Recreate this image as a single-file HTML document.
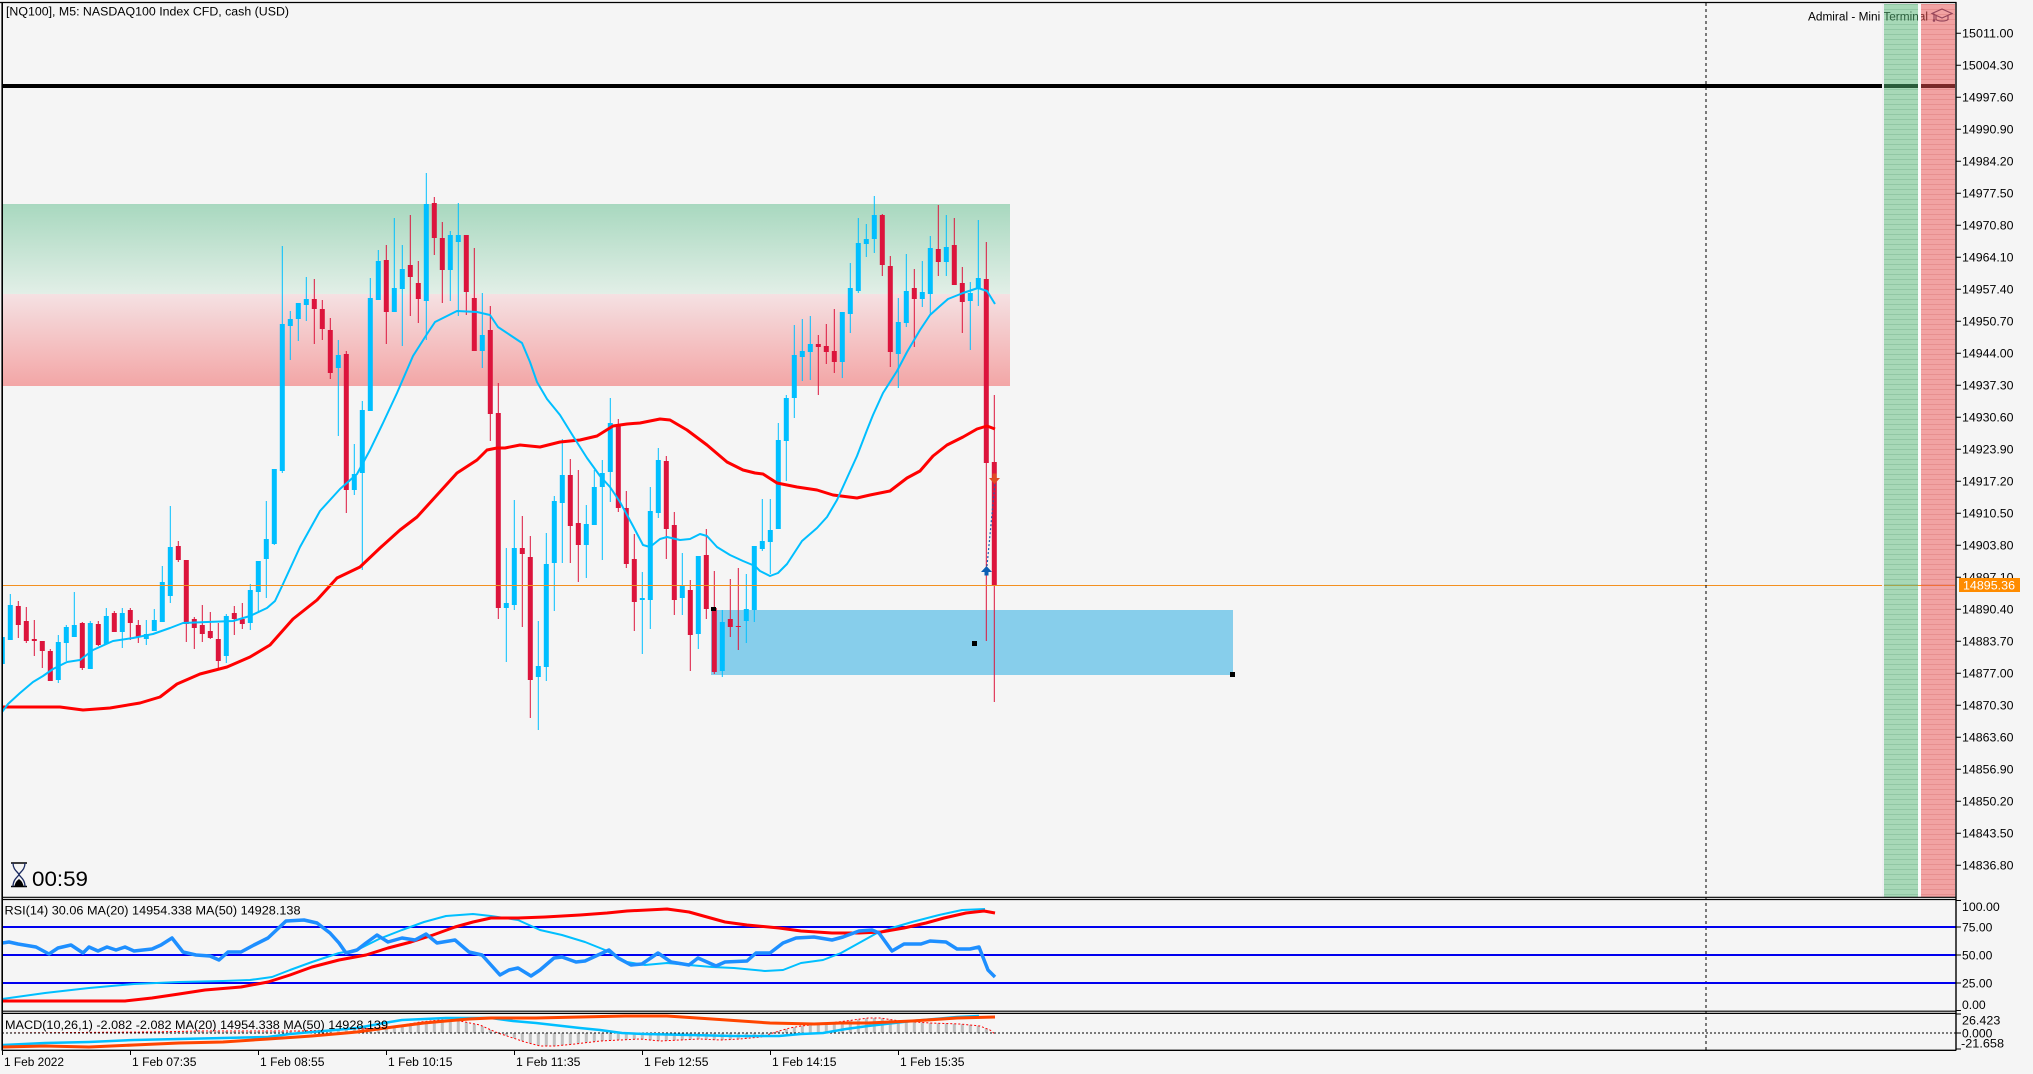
<!DOCTYPE html>
<html><head><meta charset="utf-8"><style>
html,body{margin:0;padding:0;background:#f5f5f5;}
svg{display:block;}
text{font-family:"Liberation Sans",Arial,sans-serif;fill:#000;}
</style></head><body>
<svg width="2033" height="1074" viewBox="0 0 2033 1074" xmlns="http://www.w3.org/2000/svg">
<defs>
<linearGradient id="gz" x1="0" y1="0" x2="0" y2="1"><stop offset="0" stop-color="#a8d8bf"/><stop offset="1" stop-color="#e2efe7"/></linearGradient>
<linearGradient id="rz" x1="0" y1="0" x2="0" y2="1"><stop offset="0" stop-color="#f5e1e3"/><stop offset="1" stop-color="#f3a6a6"/></linearGradient>
<clipPath id="cm"><rect x="3" y="3" width="1953" height="894"/></clipPath>
<clipPath id="cr"><rect x="3" y="900" width="1953" height="111"/></clipPath>
<clipPath id="cd"><rect x="3" y="1014" width="1953" height="36"/></clipPath>
<pattern id="hs" patternUnits="userSpaceOnUse" x="0.8" y="0" width="8" height="1074"><rect width="3" height="1074" fill="#c0c0c0"/></pattern>
<pattern id="gs" patternUnits="userSpaceOnUse" width="10" height="5"><rect y="4" width="10" height="1" fill="rgba(30,110,60,0.16)"/></pattern>
<pattern id="rs" patternUnits="userSpaceOnUse" width="10" height="5"><rect y="4" width="10" height="1" fill="rgba(170,30,30,0.14)"/></pattern>
</defs>
<rect width="2033" height="1074" fill="#f5f5f5"/>

<g clip-path="url(#cm)">
<!-- zones -->
<rect x="2" y="204" width="1008" height="90" fill="url(#gz)"/>
<rect x="2" y="294" width="1008" height="92" fill="url(#rz)"/>
<!-- blue rectangle -->
<rect x="711" y="610" width="522" height="65" fill="#87ceeb"/>
<!-- black level line -->
<rect x="2" y="84" width="1880" height="4" fill="#000"/>
<!-- candles -->
<path fill="#00bfff" d="M1.8 637h1v27h-1zM-0.2 637h5v27h-5zM9.8 594h1v46h-1zM7.8 605h5v35h-5zM57.8 635h1v48h-1zM55.8 642h5v38h-5zM65.8 625h1v36h-1zM63.8 627h5v16h-5zM73.8 592h1v45h-1zM71.8 625h5v12h-5zM89.8 621h1v48h-1zM87.8 623h5v46h-5zM105.8 608h1v36h-1zM103.8 616h5v28h-5zM121.8 608h1v40h-1zM119.8 613h5v19h-5zM145.8 620h1v25h-1zM143.8 634h5v5h-5zM153.8 609h1v22h-1zM151.8 620h5v11h-5zM161.8 566h1v56h-1zM159.8 582h5v40h-5zM169.8 506h1v97h-1zM167.8 547h5v49h-5zM225.8 614h1v49h-1zM223.8 616h5v40h-5zM249.8 584h1v46h-1zM247.8 590h5v33h-5zM257.8 561h1v51h-1zM255.8 561h5v31h-5zM265.8 501h1v97h-1zM263.8 539h5v20h-5zM273.8 469h1v76h-1zM271.8 469h5v75h-5zM281.8 246h1v227h-1zM279.8 324h5v147h-5zM289.8 311h1v49h-1zM287.8 319h5v7h-5zM297.8 303h1v38h-1zM295.8 303h5v16h-5zM305.8 277h1v44h-1zM303.8 299h5v6h-5zM337.8 340h1v96h-1zM335.8 355h5v13h-5zM353.8 444h1v51h-1zM351.8 474h5v16h-5zM361.8 401h1v169h-1zM359.8 410h5v63h-5zM369.8 278h1v133h-1zM367.8 298h5v113h-5zM377.8 250h1v50h-1zM375.8 261h5v39h-5zM393.8 218h1v94h-1zM391.8 288h5v24h-5zM401.8 245h1v101h-1zM399.8 269h5v20h-5zM425.8 173h1v167h-1zM423.8 204h5v97h-5zM449.8 231h1v70h-1zM447.8 235h5v35h-5zM457.8 203h1v113h-1zM455.8 235h5v7h-5zM481.8 293h1v75h-1zM479.8 335h5v16h-5zM505.8 548h1v114h-1zM503.8 603h5v5h-5zM513.8 500h1v110h-1zM511.8 548h5v57h-5zM537.8 621h1v109h-1zM535.8 666h5v11h-5zM545.8 533h1v148h-1zM543.8 564h5v103h-5zM553.8 496h1v115h-1zM551.8 501h5v62h-5zM561.8 439h1v124h-1zM559.8 475h5v28h-5zM585.8 505h1v73h-1zM583.8 524h5v21h-5zM593.8 470h1v55h-1zM591.8 487h5v38h-5zM601.8 460h1v100h-1zM599.8 473h5v14h-5zM609.8 398h1v104h-1zM607.8 423h5v49h-5zM641.8 572h1v82h-1zM639.8 598h5v2h-5zM649.8 487h1v142h-1zM647.8 511h5v89h-5zM657.8 448h1v70h-1zM655.8 460h5v53h-5zM681.8 553h1v62h-1zM679.8 586h5v12h-5zM697.8 556h1v93h-1zM695.8 556h5v78h-5zM721.8 610h1v67h-1zM719.8 622h5v49h-5zM745.8 574h1v69h-1zM743.8 609h5v12h-5zM753.8 546h1v76h-1zM751.8 546h5v64h-5zM761.8 499h1v52h-1zM759.8 541h5v8h-5zM769.8 499h1v75h-1zM767.8 530h5v12h-5zM777.8 423h1v106h-1zM775.8 440h5v89h-5zM785.8 395h1v86h-1zM783.8 398h5v43h-5zM793.8 325h1v93h-1zM791.8 355h5v43h-5zM801.8 319h1v62h-1zM799.8 351h5v6h-5zM809.8 316h1v64h-1zM807.8 344h5v8h-5zM841.8 312h1v66h-1zM839.8 312h5v50h-5zM849.8 263h1v70h-1zM847.8 288h5v26h-5zM857.8 218h1v75h-1zM855.8 243h5v48h-5zM865.8 224h1v33h-1zM863.8 239h5v5h-5zM873.8 196h1v57h-1zM871.8 215h5v24h-5zM897.8 298h1v90h-1zM895.8 322h5v32h-5zM905.8 254h1v73h-1zM903.8 291h5v32h-5zM921.8 261h1v46h-1zM919.8 292h5v7h-5zM929.8 236h1v79h-1zM927.8 248h5v46h-5zM945.8 215h1v61h-1zM943.8 247h5v15h-5zM969.8 282h1v68h-1zM967.8 293h5v8h-5zM977.8 220h1v86h-1zM975.8 278h5v11h-5z"/>
<path fill="#dc143c" d="M17.8 601h1v37h-1zM15.8 606h5v19h-5zM25.8 607h1v36h-1zM23.8 621h5v20h-5zM33.8 620h1v36h-1zM31.8 639h5v2h-5zM41.8 641h1v27h-1zM39.8 641h5v10h-5zM49.8 649h1v32h-1zM47.8 651h5v30h-5zM81.8 622h1v48h-1zM79.8 623h5v45h-5zM97.8 621h1v25h-1zM95.8 624h5v21h-5zM113.8 611h1v21h-1zM111.8 613h5v19h-5zM129.8 608h1v32h-1zM127.8 610h5v13h-5zM137.8 620h1v23h-1zM135.8 625h5v12h-5zM177.8 541h1v21h-1zM175.8 546h5v14h-5zM185.8 560h1v82h-1zM183.8 560h5v64h-5zM193.8 617h1v32h-1zM191.8 619h5v9h-5zM201.8 605h1v37h-1zM199.8 625h5v9h-5zM209.8 612h1v27h-1zM207.8 631h5v7h-5zM217.8 623h1v45h-1zM215.8 639h5v22h-5zM233.8 606h1v29h-1zM231.8 613h5v6h-5zM241.8 603h1v26h-1zM239.8 619h5v5h-5zM313.8 279h1v65h-1zM311.8 299h5v10h-5zM321.8 300h1v40h-1zM319.8 309h5v20h-5zM329.8 318h1v61h-1zM327.8 330h5v43h-5zM345.8 351h1v162h-1zM343.8 354h5v136h-5zM385.8 245h1v99h-1zM383.8 260h5v52h-5zM409.8 215h1v101h-1zM407.8 265h5v12h-5zM417.8 261h1v62h-1zM415.8 283h5v16h-5zM433.8 197h1v58h-1zM431.8 203h5v35h-5zM441.8 222h1v81h-1zM439.8 238h5v32h-5zM465.8 235h1v80h-1zM463.8 235h5v57h-5zM473.8 248h1v103h-1zM471.8 298h5v53h-5zM489.8 306h1v135h-1zM487.8 330h5v84h-5zM497.8 383h1v236h-1zM495.8 413h5v195h-5zM521.8 516h1v111h-1zM519.8 548h5v6h-5zM529.8 536h1v182h-1zM527.8 557h5v123h-5zM569.8 459h1v104h-1zM567.8 475h5v51h-5zM577.8 470h1v112h-1zM575.8 523h5v22h-5zM617.8 419h1v93h-1zM615.8 425h5v83h-5zM625.8 491h1v77h-1zM623.8 508h5v56h-5zM633.8 534h1v97h-1zM631.8 559h5v43h-5zM665.8 456h1v103h-1zM663.8 461h5v68h-5zM673.8 512h1v103h-1zM671.8 525h5v75h-5zM689.8 580h1v91h-1zM687.8 590h5v45h-5zM705.8 529h1v90h-1zM703.8 555h5v54h-5zM713.8 571h1v103h-1zM711.8 608h5v64h-5zM729.8 579h1v58h-1zM727.8 619h5v8h-5zM737.8 568h1v82h-1zM735.8 626h5v1h-5zM817.8 335h1v60h-1zM815.8 344h5v3h-5zM825.8 324h1v40h-1zM823.8 346h5v6h-5zM833.8 309h1v64h-1zM831.8 351h5v11h-5zM881.8 214h1v62h-1zM879.8 215h5v50h-5zM889.8 256h1v111h-1zM887.8 266h5v86h-5zM913.8 269h1v78h-1zM911.8 288h5v11h-5zM937.8 205h1v71h-1zM935.8 249h5v13h-5zM953.8 218h1v67h-1zM951.8 245h5v40h-5zM961.8 267h1v66h-1zM959.8 283h5v19h-5zM985.8 242h1v399h-1zM983.8 279h5v184h-5zM993.8 395h1v307h-1zM991.8 462h5v124h-5z"/>
<!-- moving averages -->
<polyline fill="none" stroke="#ff0000" stroke-width="3" stroke-linejoin="round" points="2,707 60,707 83,710 110,708 140,703 160,697 177,684 200,674 227,667 250,657 270,645 293,619 317,600 337,578 360,567 380,548 400,530 417,517 437,495 457,473 477,460 487,450 497,448 505,448 520,445 540,447 560,442 580,440 597,436 613,426 627,424 640,423 660,419 670,420 687,430 707,445 727,462 743,470 755,473 763,474 777,483 797,487 817,490 833,495 857,498 870,495 890,491 907,478 920,471 933,456 947,445 963,437 977,429 987,426 995,429"/>
<polyline fill="none" stroke="#00bfff" stroke-width="2" stroke-linejoin="round" points="2,712 8,704 20,693 33,682 43,676 53,669 67,662 80,660 93,650 113,641 133,638 153,634 170,628 183,623 207,622 233,621 250,616 267,608 275,601 283,584 300,547 320,511 340,489 357,474 370,450 383,423 397,393 413,356 427,334 435,322 457,311 477,312 490,315 498,327 510,335 522,343 530,362 537,382 547,399 560,415 573,436 587,458 600,476 610,487 620,502 633,526 643,545 650,547 660,539 667,537 680,540 690,539 700,534 707,536 717,547 730,555 743,561 755,566 760,571 770,576 778,573 787,564 802,541 817,528 827,517 837,500 847,478 857,456 867,430 873,415 883,393 897,371 907,352 920,330 930,315 940,306 948,299 963,293 978,288 987,291 995,304"/>
<!-- handles -->
<rect x="711" y="607" width="5" height="4" fill="#000"/>
<rect x="972" y="641" width="5" height="5" fill="#000"/>
<rect x="1230" y="672" width="5" height="5" fill="#000"/>
<!-- trade markers -->
<line x1="987" y1="566" x2="995" y2="483" stroke="#1a5fb0" stroke-width="1.2" stroke-dasharray="2,2"/>
<path d="M986.5 566l-5.5 6h3.5v3.5h4v-3.5h3.5z" fill="#0a5fb4"/>
<path d="M994.5 484l-5.5-6h3.5v-4.5h4v4.5h3.5z" fill="#e04b22"/>
<!-- current price line -->
<rect x="2" y="585" width="1953" height="1" fill="#f39020"/>
</g>

<!-- dashed vertical line -->
<line x1="1706" y1="3" x2="1706" y2="1050" stroke="#000" stroke-width="1" stroke-dasharray="3,3"/>

<!-- header texts -->
<text x="6" y="15.5" font-size="11.5" textLength="283" lengthAdjust="spacingAndGlyphs">[NQ100], M5:  NASDAQ100 Index CFD, cash (USD)</text>
<text x="1808" y="20.5" font-size="11.5" textLength="120" lengthAdjust="spacingAndGlyphs">Admiral - Mini Terminal</text>
<g fill="none" stroke="#3c3c66" stroke-width="1.2">
<path d="M1942 9l10 4.5-10 4.5-10-4.5z"/>
<path d="M1936 15.5v4c2 2 10 2 12 0v-4"/>
<path d="M1934 13.5v6.5"/>
</g>
<circle cx="1934" cy="20.5" r="1.3" fill="#3c3c66"/>

<!-- right columns -->
<rect x="1882" y="3" width="2" height="894" fill="#efeff3"/>
<rect x="1918" y="3" width="3" height="894" fill="#fafafa"/>
<rect x="1884" y="84" width="34" height="4" fill="#000"/>
<rect x="1921" y="84" width="34" height="4" fill="#000"/>
<rect x="1884" y="585" width="71" height="1" fill="#f39020"/>
<rect x="1884" y="4" width="34" height="893" fill="rgba(86,185,119,0.49)"/>
<rect x="1884" y="4" width="34" height="893" fill="url(#gs)"/>
<rect x="1921" y="4" width="34" height="893" fill="rgba(238,80,80,0.5)"/>
<rect x="1921" y="4" width="34" height="893" fill="url(#rs)"/>

<!-- timer -->
<path d="M11 863h16M11 886.5h16" stroke="#000" stroke-width="1.6"/>
<path d="M13 863c0 7 5 9 6 11.5c-1 2.5-6 4.5-6 12M25 863c0 7-5 9-6 11.5c1 2.5 6 4.5 6 12" stroke="#1a2a60" fill="none" stroke-width="1.3"/>
<path d="M14.5 886c1-5 3.5-6 4.5-7c1 1 3.5 2 4.5 7z" fill="#000"/>
<text x="32" y="886" font-size="21.5" textLength="56" lengthAdjust="spacingAndGlyphs">00:59</text>

<!-- RSI panel -->
<g clip-path="url(#cr)">
<rect x="2" y="926" width="1954" height="2" fill="#0000ee"/>
<rect x="2" y="954" width="1954" height="2" fill="#0000ee"/>
<rect x="2" y="982" width="1954" height="2" fill="#0000ee"/>
<polyline fill="none" stroke="#00bfff" stroke-width="2" stroke-linejoin="round" points="2,999 45,993 89,988 134,984 179,982 223,981 250,980 272,977 290,970 312,962 339,953 357,950 379,939 402,930 424,922 446,916 473,914 491,916 518,920 540,930 562,935 585,942 605,950 627,962 645,965 667,963 689,965 712,967 734,968 765,971 783,970 801,963 823,960 841,953 859,943 877,933 895,927 912,922 939,915 962,910 985,909"/>
<polyline fill="none" stroke="#ff0000" stroke-width="3" stroke-linejoin="round" points="2,1001 45,1001 89,1001 125,1001 152,998 179,994 205,990 241,987 268,982 290,975 312,967 339,960 366,955 388,948 411,942 433,935 455,927 473,922 491,918 518,918 545,917 580,915 607,913 627,911 667,909 689,912 725,922 747,925 779,928 801,931 832,933 859,933 881,932 904,928 926,923 944,918 966,913 984,911 995,913"/>
<polyline fill="none" stroke="#1e8fff" stroke-width="3.5" stroke-linejoin="round" points="2,943 9,942 18,944 36,947 49,954 58,948 71,945 83,953 89,947 98,951 107,947 116,950 125,947 134,951 152,949 161,945 172,938 183,952 196,955 210,956 219,960 228,952 241,952 254,945 268,938 286,921 304,920 317,923 330,933 339,943 346,953 357,950 366,943 377,935 388,942 402,938 415,940 426,934 437,943 455,940 469,952 482,955 491,965 500,975 509,970 518,968 531,976 540,970 554,958 562,957 576,962 585,961 598,955 609,950 618,958 631,965 642,964 658,953 671,962 689,965 698,958 716,966 725,962 747,961 756,953 770,953 783,943 796,938 814,937 832,940 843,937 859,931 872,930 879,933 892,951 904,944 921,944 930,941 946,942 957,949 970,949 979,947 988,970 995,977"/>
</g>
<text x="4.5" y="914.5" font-size="11.5" textLength="296" lengthAdjust="spacingAndGlyphs">RSI(14) 30.06 MA(20) 14954.338 MA(50) 14928.138</text>

<!-- MACD panel -->
<g clip-path="url(#cd)">
<path d="M2 1033L150 1032L200 1031L300 1031L330 1030L360 1029L393 1027L420 1022L440 1020L460 1021L480 1025L491 1030L498 1033L510 1037L525 1042L540 1046L555 1046L575 1044L600 1041L620 1040L640 1039L660 1041L680 1040L700 1039L720 1040L740 1039L761 1037L779 1031L790 1028L801 1026L830 1023L846 1021L868 1018L880 1018L900 1021L930 1023L960 1024L980 1026L990 1030L995 1034L995 1033Z" fill="url(#hs)"/>
<polyline fill="none" stroke="#ff0000" stroke-width="1" stroke-dasharray="2,2" points="2,1033 150,1032 200,1031 300,1031 330,1030 360,1029 393,1027 420,1022 440,1020 460,1021 480,1025 491,1030 498,1033 510,1037 525,1042 540,1046 555,1046 575,1044 600,1041 620,1040 640,1039 660,1041 680,1040 700,1039 720,1040 740,1039 761,1037 779,1031 790,1028 801,1026 830,1023 846,1021 868,1018 880,1018 900,1021 930,1023 960,1024 980,1026 990,1030 995,1034"/>
<line x1="2" y1="1033" x2="1956" y2="1033" stroke="#000" stroke-width="1" stroke-dasharray="2,2"/>
<polyline fill="none" stroke="#00bfff" stroke-width="2.5" stroke-linejoin="round" points="2,1045 45,1043 89,1042 134,1040 179,1039 223,1038 268,1037 290,1034 312,1032 335,1030 357,1028 384,1023 402,1020 424,1019 446,1018 491,1018 513,1021 536,1023 580,1028 600,1030 622,1033 645,1034 689,1035 734,1036 779,1036 801,1034 823,1033 846,1029 868,1026 912,1021 957,1017 979,1016"/>
<polyline fill="none" stroke="#ff4500" stroke-width="3" stroke-linejoin="round" points="2,1047 45,1046 89,1047 134,1045 179,1043 223,1042 268,1039 312,1036 357,1032 393,1027 424,1023 446,1021 469,1019 491,1018 536,1018 580,1017 625,1016 667,1016 712,1019 770,1023 814,1024 841,1023 868,1023 912,1021 957,1018 995,1017"/>
</g>
<text x="5" y="1029" font-size="11.5" textLength="383" lengthAdjust="spacingAndGlyphs">MACD(10,26,1) -2.082 -2.082 MA(20) 14954.338 MA(50) 14928.139</text>

<!-- frames -->
<g fill="none" stroke="#000">
<line x1="0" y1="2.5" x2="1956.5" y2="2.5" stroke-width="1.3"/>
<line x1="2.2" y1="2" x2="2.2" y2="1050.5" stroke-width="1.6"/>
<line x1="1956" y1="2" x2="1956" y2="1050.5" stroke-width="1.4"/>
<line x1="2" y1="897.3" x2="1956" y2="897.3" stroke-width="1.2"/>
<line x1="2" y1="899.5" x2="1956" y2="899.5" stroke-width="1.2"/>
<line x1="2" y1="1011.2" x2="1956" y2="1011.2" stroke-width="1.2"/>
<line x1="2" y1="1013.4" x2="1956" y2="1013.4" stroke-width="1.2"/>
<line x1="2" y1="1050.3" x2="1956" y2="1050.3" stroke-width="1.3"/>
</g>

<!-- price axis ticks -->
<path stroke="#000" stroke-width="1" d="M1956 33.3h5M1956 65.3h5M1956 97.3h5M1956 129.3h5M1956 161.3h5M1956 193.3h5M1956 225.3h5M1956 257.3h5M1956 289.3h5M1956 321.3h5M1956 353.3h5M1956 385.3h5M1956 417.3h5M1956 449.3h5M1956 481.3h5M1956 513.3h5M1956 545.3h5M1956 577.3h5M1956 609.3h5M1956 641.3h5M1956 673.3h5M1956 705.3h5M1956 737.3h5M1956 769.3h5M1956 801.3h5M1956 833.3h5M1956 865.3h5M1956 900.5h5M1956 927h5M1956 955h5M1956 983h5M1956 1010.5h5M1956 1014h5M1956 1033h5M1956 1049h5"/>
<g font-size="11.5">
<text x="1962" y="37.6" textLength="51.5" lengthAdjust="spacingAndGlyphs">15011.00</text>
<text x="1962" y="69.6" textLength="51.5" lengthAdjust="spacingAndGlyphs">15004.30</text>
<text x="1962" y="101.6" textLength="51.5" lengthAdjust="spacingAndGlyphs">14997.60</text>
<text x="1962" y="133.6" textLength="51.5" lengthAdjust="spacingAndGlyphs">14990.90</text>
<text x="1962" y="165.6" textLength="51.5" lengthAdjust="spacingAndGlyphs">14984.20</text>
<text x="1962" y="197.6" textLength="51.5" lengthAdjust="spacingAndGlyphs">14977.50</text>
<text x="1962" y="229.6" textLength="51.5" lengthAdjust="spacingAndGlyphs">14970.80</text>
<text x="1962" y="261.6" textLength="51.5" lengthAdjust="spacingAndGlyphs">14964.10</text>
<text x="1962" y="293.6" textLength="51.5" lengthAdjust="spacingAndGlyphs">14957.40</text>
<text x="1962" y="325.6" textLength="51.5" lengthAdjust="spacingAndGlyphs">14950.70</text>
<text x="1962" y="357.6" textLength="51.5" lengthAdjust="spacingAndGlyphs">14944.00</text>
<text x="1962" y="389.6" textLength="51.5" lengthAdjust="spacingAndGlyphs">14937.30</text>
<text x="1962" y="421.6" textLength="51.5" lengthAdjust="spacingAndGlyphs">14930.60</text>
<text x="1962" y="453.6" textLength="51.5" lengthAdjust="spacingAndGlyphs">14923.90</text>
<text x="1962" y="485.6" textLength="51.5" lengthAdjust="spacingAndGlyphs">14917.20</text>
<text x="1962" y="517.6" textLength="51.5" lengthAdjust="spacingAndGlyphs">14910.50</text>
<text x="1962" y="549.6" textLength="51.5" lengthAdjust="spacingAndGlyphs">14903.80</text>
<text x="1962" y="581.6" textLength="51.5" lengthAdjust="spacingAndGlyphs">14897.10</text>
<text x="1962" y="613.6" textLength="51.5" lengthAdjust="spacingAndGlyphs">14890.40</text>
<text x="1962" y="645.6" textLength="51.5" lengthAdjust="spacingAndGlyphs">14883.70</text>
<text x="1962" y="677.6" textLength="51.5" lengthAdjust="spacingAndGlyphs">14877.00</text>
<text x="1962" y="709.6" textLength="51.5" lengthAdjust="spacingAndGlyphs">14870.30</text>
<text x="1962" y="741.6" textLength="51.5" lengthAdjust="spacingAndGlyphs">14863.60</text>
<text x="1962" y="773.6" textLength="51.5" lengthAdjust="spacingAndGlyphs">14856.90</text>
<text x="1962" y="805.6" textLength="51.5" lengthAdjust="spacingAndGlyphs">14850.20</text>
<text x="1962" y="837.6" textLength="51.5" lengthAdjust="spacingAndGlyphs">14843.50</text>
<text x="1962" y="869.6" textLength="51.5" lengthAdjust="spacingAndGlyphs">14836.80</text>
</g>
<!-- current price label -->
<rect x="1959" y="578" width="61" height="14" fill="#ff8c00"/>
<text x="1963" y="589.5" font-size="11.5" textLength="52" lengthAdjust="spacingAndGlyphs" style="fill:#fff">14895.36</text>

<!-- RSI / MACD axis labels -->
<g font-size="11.5">
<text x="1962" y="911" textLength="37.7" lengthAdjust="spacingAndGlyphs">100.00</text>
<text x="1962" y="931.7" textLength="30.3" lengthAdjust="spacingAndGlyphs">75.00</text>
<text x="1962" y="959.7" textLength="30.3" lengthAdjust="spacingAndGlyphs">50.00</text>
<text x="1962" y="987.3" textLength="30.3" lengthAdjust="spacingAndGlyphs">25.00</text>
<text x="1962" y="1009" textLength="23.7" lengthAdjust="spacingAndGlyphs">0.00</text>
<text x="1962" y="1024.7" textLength="38.3" lengthAdjust="spacingAndGlyphs">26.423</text>
<text x="1962" y="1037.3" textLength="30.3" lengthAdjust="spacingAndGlyphs">0.000</text>
<text x="1961" y="1047.7" textLength="43" lengthAdjust="spacingAndGlyphs">-21.658</text>
</g>

<!-- time axis -->
<path stroke="#000" stroke-width="1" d="M2.5 1050v5M130.5 1050v5M258.5 1050v5M386.5 1050v5M514.5 1050v5M642.5 1050v5M770.5 1050v5M898.5 1050v5"/>
<g font-size="11.5">
<text x="4" y="1066" textLength="60" lengthAdjust="spacingAndGlyphs">1 Feb 2022</text>
<text x="132" y="1066" textLength="64.5" lengthAdjust="spacingAndGlyphs">1 Feb 07:35</text>
<text x="260" y="1066" textLength="64.5" lengthAdjust="spacingAndGlyphs">1 Feb 08:55</text>
<text x="388" y="1066" textLength="64.5" lengthAdjust="spacingAndGlyphs">1 Feb 10:15</text>
<text x="516" y="1066" textLength="64.5" lengthAdjust="spacingAndGlyphs">1 Feb 11:35</text>
<text x="644" y="1066" textLength="64.5" lengthAdjust="spacingAndGlyphs">1 Feb 12:55</text>
<text x="772" y="1066" textLength="64.5" lengthAdjust="spacingAndGlyphs">1 Feb 14:15</text>
<text x="900" y="1066" textLength="64.5" lengthAdjust="spacingAndGlyphs">1 Feb 15:35</text>
</g>
</svg>
</body></html>
